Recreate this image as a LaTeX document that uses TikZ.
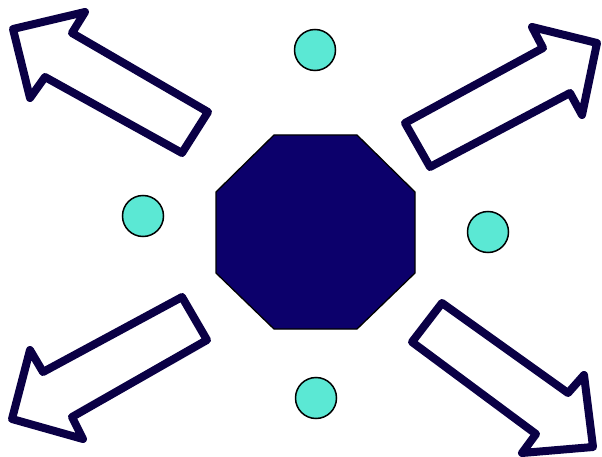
\documentclass[tikz,border=0pt]{standalone}
\definecolor{arrowline}{HTML}{0A0045}
\definecolor{octfill}{HTML}{0C006B}
\definecolor{dotfill}{HTML}{5BE8D4}
\tikzset{
  bigarrow/.style={draw=arrowline, line width=8pt, line join=round, fill=white},
  dot/.style={circle, draw=black, line width=1.5pt, fill=dotfill, minimum size=41pt, inner sep=0pt},
  octa/.style={draw=black, line width=1.3pt, fill=octfill, line join=miter}
}
\begin{document}
\begin{tikzpicture}[x=1pt,y=-1pt]
\useasboundingbox (0,0) rectangle (602,457);
% octagon
\draw[octa] (274,135) -- (357,135) -- (415,192) -- (415,273) -- (357,329) -- (274,329) -- (216,273) -- (216,192) -- cycle;
% dots
\node[dot] (dtop) at (315,50) {};
\node[dot] (dleft) at (143,216) {};
\node[dot] (dright) at (488,232) {};
\node[dot] (dbottom) at (316,398) {};
% top-left arrow
\draw[bigarrow] (13,29) -- (85,12) -- (72,33) -- (208,112) -- (182,153) -- (45,77) -- (30,98) -- cycle;
% top-right arrow
\draw[bigarrow] (597,43) -- (532,27) -- (543,48) -- (405,123) -- (430,167) -- (570,93) -- (582,115) -- cycle;
% bottom-left arrow
\draw[bigarrow] (12,419) -- (30,350) -- (43,372) -- (182,297) -- (207,340) -- (72,417) -- (83,439) -- cycle;
% bottom-right arrow
\draw[bigarrow] (593,447) -- (584,375) -- (568,393) -- (442,303) -- (412,342) -- (536,434) -- (522,453) -- cycle;
\end{tikzpicture}
\end{document}
